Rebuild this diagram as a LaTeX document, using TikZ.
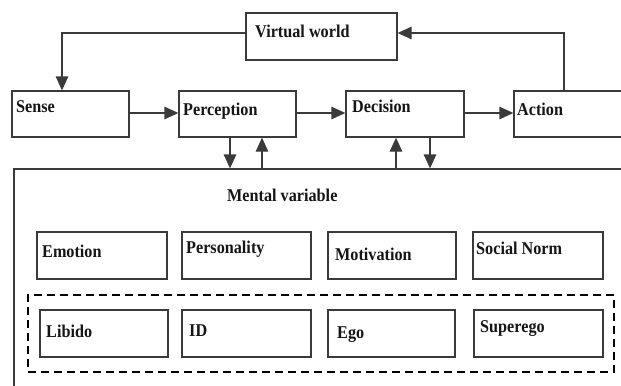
\documentclass[tikz,border=0pt]{standalone}
\usepackage{fontspec}
\setmainfont[FakeStretch=0.9]{Liberation Serif}
\usetikzlibrary{arrows.meta,fit}
\definecolor{linec}{HTML}{3A3A3A}
\definecolor{txtc}{HTML}{151515}
\begin{document}
\begin{tikzpicture}[x=1bp,y=-1bp,
  box/.style={draw=linec, line width=1.3bp, inner sep=0pt, fit={#1}},
  lbl/.style={anchor=base west, inner sep=0pt, font=\fontsize{18bp}{20bp}\selectfont\bfseries, text=txtc},
  conn/.style={draw=linec, line width=1.3bp},
  arr/.style={conn, -{Triangle[length=14bp,width=12.5bp]}}]
\path[use as bounding box] (0,0) rectangle (621,385);
\clip (0,0) rectangle (621,385);
\fill[white] (0,0) rectangle (621,385);

% top row
\node[box={(246,13) (397,60)}] (vw) {};
\node[box={(12,91) (129,137)}] (sense) {};
\node[box={(179,91) (296,137)}] (perc) {};
\node[box={(346,91) (464,137)}] (dec) {};
\node[box={(514,91) (650,137)}] (act) {};

\node[lbl] (vwt) at (255,37) {Virtual world};
\node[lbl] (senset) at (16,112) {Sense};
\node[lbl] (perct) at (183,115) {Perception};
\node[lbl] (dect) at (352,112) {Decision};
\node[lbl] (actt) at (517,115) {Action};

% mental variable
\node[box={(14,169) (650,400)}] (mental) {};
\node[lbl] (mentalt) at (227,201) {Mental variable};

\node[box={(37,232) (167,279)}] (emo) {};
\node[box={(182,232) (311,279)}] (pers) {};
\node[box={(328,232) (456,279)}] (mot) {};
\node[box={(473,232) (603,279)}] (soc) {};
\node[lbl] (emot) at (42,257) {Emotion};
\node[lbl] (perst) at (186,253) {Personality};
\node[lbl] (mott) at (335,260) {Motivation};
\node[lbl] (soct) at (476,254) {Social Norm};

\node[draw=black, line width=1.8bp, dash pattern=on 8bp off 5bp, inner sep=0pt, fit={(28,295) (614,372)}] (dashed) {};
\node[box={(40,310) (168,357)}] (lib) {};
\node[box={(182,310) (311,357)}] (id) {};
\node[box={(328,310) (455,357)}] (ego) {};
\node[box={(474,310) (603,357)}] (sup) {};
\node[lbl] (libt) at (46,337) {Libido};
\node[lbl] (idt) at (189,336) {ID};
\node[lbl] (egot) at (337,338) {Ego};
\node[lbl] (supt) at (480,332) {Superego};

% connectors
\coordinate (ylvl) at (0,113);
\draw[arr] (sense.east |- ylvl) -- (perc.west |- ylvl);
\draw[arr] (perc.east |- ylvl) -- (dec.west |- ylvl);
\draw[arr] (dec.east |- ylvl) -- (act.west |- ylvl);

\coordinate (ytop) at (0,33);
\coordinate (xl) at (62,0);
\coordinate (xr) at (564,0);
\draw[arr] (vw.west |- ytop) -| (xl |- sense.north);
\draw[arr] (xr |- act.north) |- (vw.east |- ytop);

\coordinate (x1) at (230,0);
\coordinate (x2) at (262,0);
\coordinate (x3) at (396,0);
\coordinate (x4) at (430,0);
\draw[arr] (x1 |- perc.south) -- (x1 |- mental.north);
\draw[arr] (x2 |- mental.north) -- (x2 |- perc.south);
\draw[arr] (x3 |- mental.north) -- (x3 |- dec.south);
\draw[arr] (x4 |- dec.south) -- (x4 |- mental.north);
\end{tikzpicture}
\end{document}
